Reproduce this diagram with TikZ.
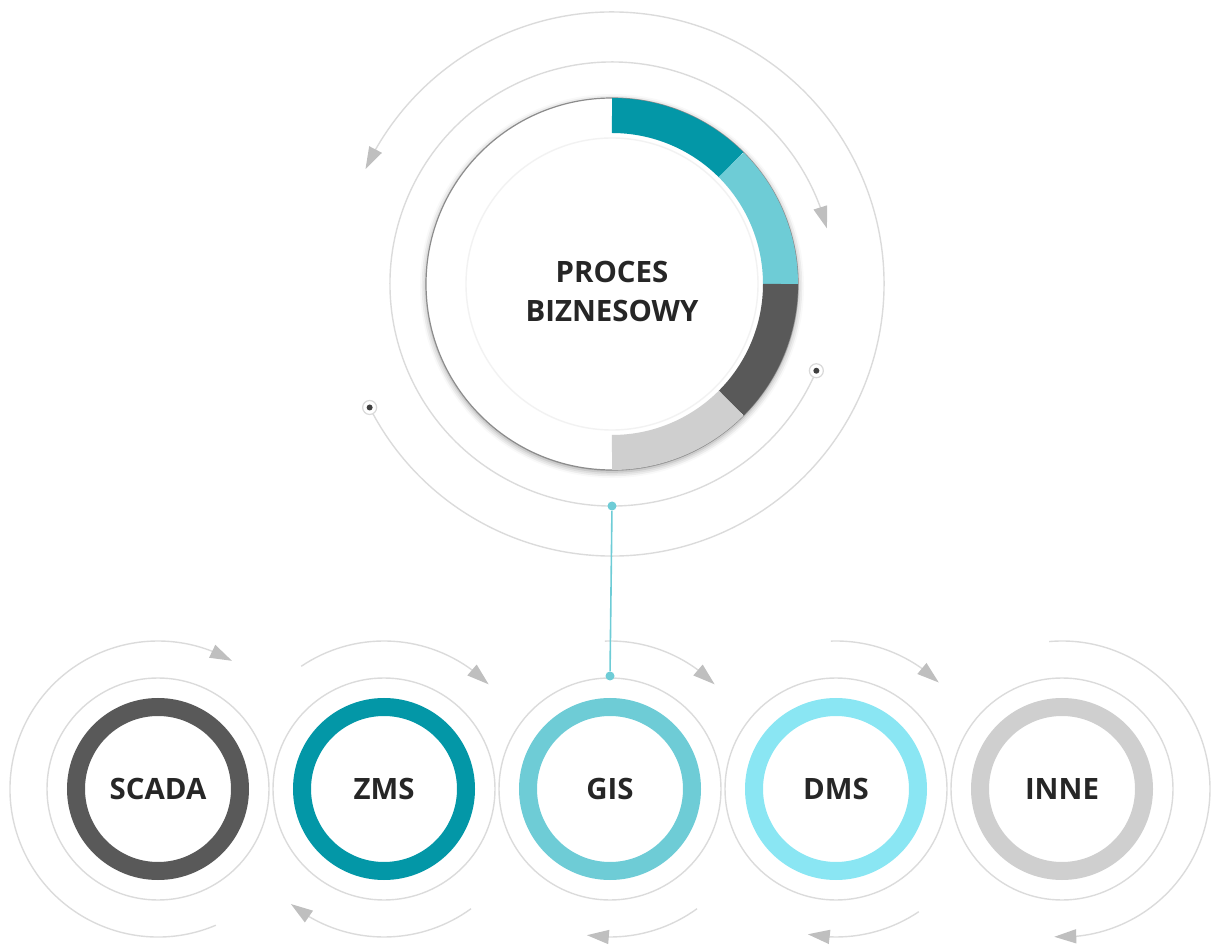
\documentclass[tikz,border=0pt]{standalone}
\usetikzlibrary{arrows.meta, positioning, bending, shadows.blur}
\usepackage{xcolor}
\usepackage{fontspec}
\setmainfont{Open Sans}
\definecolor{tealdark}{HTML}{0397A7}
\definecolor{tealmid}{HTML}{6ECCD6}
\definecolor{tealpale}{HTML}{8AE6F3}
\definecolor{slate}{HTML}{595959}
\definecolor{silver}{HTML}{CFCFCF}
\def\ringrad{111}
\def\arcrad{148}

\begin{document}
\begin{tikzpicture}[x=0.5pt,y=0.5pt,font=\fontsize{14.7}{19.5}\selectfont\bfseries]
    \tikzstyle{guide}=[draw=black!14, line width=0.7pt]
    \tikzstyle{turn}=[guide, -{Triangle[length=11pt,width=7pt,color=black!25,fill=black!25]}]
    \tikzstyle{process}=[circle, fill=white, draw=black!45, line width=0.6pt, minimum size=186pt, inner sep=0pt, text=black!85]
    \tikzstyle{segment}=[line width=17.5pt]
    \tikzstyle{system}=[circle, minimum size=82pt, inner sep=0pt, line width=9pt, text=black!85]
    \tikzstyle{marker}=[circle, fill=white, draw=black!15, line width=0.6pt, minimum size=7pt, inner sep=0pt]
    \tikzstyle{link dot}=[circle, fill=tealmid, minimum size=4.5pt, inner sep=0pt]
    \tikzstyle{link}=[draw=tealmid, line width=0.8pt]

    \useasboundingbox (0,0) rectangle (1211,949);

    % Draw the business process disc
    \node[process, blur shadow={shadow xshift=0pt, shadow yshift=-1pt, shadow blur radius=3pt, shadow opacity=40}] (P) at (612,665)
        {\raisebox{-5pt}[\height][\depth]{\begin{tabular}{@{}c@{}}PROCES\\BIZNESOWY\end{tabular}}};
    \draw[black!5, line width=0.7pt] (P.center) circle[radius=146];
    \foreach \from / \to / \col in {90/45/tealdark, 45/0/tealmid, 0/-45/slate, -45/-90/silver}
        \draw[segment, draw=\col] ([shift={(\from:168.5)}]P.center) arc[start angle=\from, end angle=\to, radius=168.5];

    % Orbits round the process, each from a marker to an arrow
    \draw[turn] ([shift={(207:272)}]P.center) arc[start angle=207, end angle=515, radius=272];
    \draw[turn] ([shift={(-23:222)}]P.center) arc[start angle=-23, end angle=-345.5, radius=222];
    \foreach \name / \ang / \rad in {a/207/272, b/-23/222} {
        \node[marker] (M-\name) at ([shift={(\ang:\rad)}]P.center) {};
        \fill[black!75] (M-\name) circle[radius=3];
    }

    % Draw the system rings
    \foreach \name / \x / \col / \txt in {1/158/slate/SCADA, 2/384/tealdark/ZMS, 3/610/tealmid/GIS, 4/836/tealpale/DMS, 5/1062/silver/INNE}
        \node[system, draw=\col] (S-\name) at (\x,160) {\txt};
    \foreach \name in {1,...,5}
        \draw[guide] (S-\name.center) circle[radius=\ringrad];

    % Arrows turning round the systems
    \foreach \name / \a / \b in {1/-67/-300, 2/124/45, 2/-54/-129, 3/92/45, 3/-54/-99, 4/92/46, 4/-56/-101, 5/95/-93}
        \draw[turn] ([shift={(\a:\arcrad)}]S-\name.center) arc[start angle=\a, end angle=\b, radius=\arcrad];

    % Connect the process with GIS
    \node[link dot] (P-link) at ([shift={(270:222)}]P.center) {};
    \node[link dot] (S-link) at ([shift={(90:113)}]S-3.center) {};
    \draw[link] (P-link) -- (S-link);
\end{tikzpicture}
\end{document}
